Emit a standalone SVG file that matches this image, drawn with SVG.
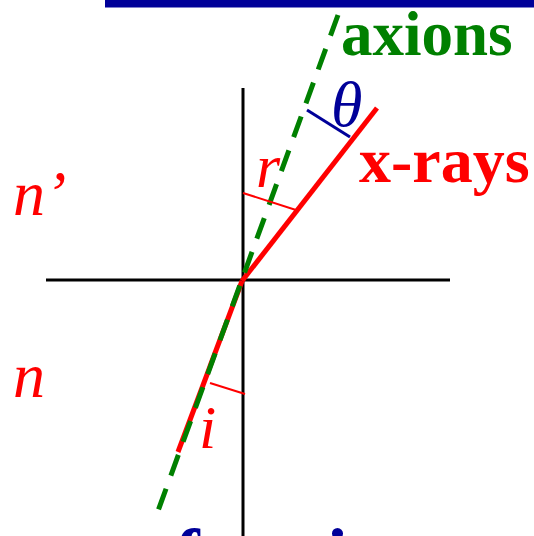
<svg xmlns="http://www.w3.org/2000/svg" width="534" height="536" viewBox="0 0 534 536">
<style>
.axis{stroke:#000;stroke-width:3;fill:none}
.ray{stroke:#ff0000;stroke-width:5;fill:none}
.axion{stroke:#008000;stroke-width:5;fill:none;stroke-dasharray:22 14}
.thin{stroke:#ff0000;stroke-width:2;fill:none}
.lbl{font-family:"Liberation Serif","Times New Roman",serif}
.it{font-style:italic}
.bd{font-weight:bold}
</style>
<rect x="105" y="0" width="429" height="7.5" fill="#000099"/>
<g id="connectors">
<line class="axis" x1="46" y1="280" x2="450" y2="280"/>
<line class="axis" x1="243" y1="88" x2="243" y2="536"/>
<line class="ray" x1="242" y1="281" x2="377" y2="108"/>
<line class="ray" x1="242" y1="281" x2="178" y2="452"/>
<line class="axion" x1="338" y1="15" x2="154" y2="522"/>
<line class="thin" x1="243" y1="193" x2="296" y2="210"/>
<line class="thin" x1="245" y1="394" x2="210" y2="383"/>
<line x1="307" y1="110" x2="350" y2="137" stroke="#000099" stroke-width="3"/>
</g>
<g id="labels">
<text class="lbl bd" x="341" y="55" font-size="63" fill="#008000">axions</text>
<text class="lbl bd" x="359" y="182" font-size="64" fill="#ff0000">x-rays</text>
<text class="lbl it" x="331" y="126" font-size="64" fill="#000099">θ</text>
<text class="lbl it" x="256" y="187" font-size="62" fill="#ff0000">r</text>
<text class="lbl it" x="199" y="448" font-size="62" fill="#ff0000">i</text>
<text class="lbl it" x="13" y="215" font-size="64" fill="#ff0000">n’</text>
<text class="lbl it" x="13" y="397" font-size="64" fill="#ff0000">n</text>
<text class="lbl bd" x="14" y="580" font-size="74" fill="#000099">no refraction</text>
</g>
</svg>
